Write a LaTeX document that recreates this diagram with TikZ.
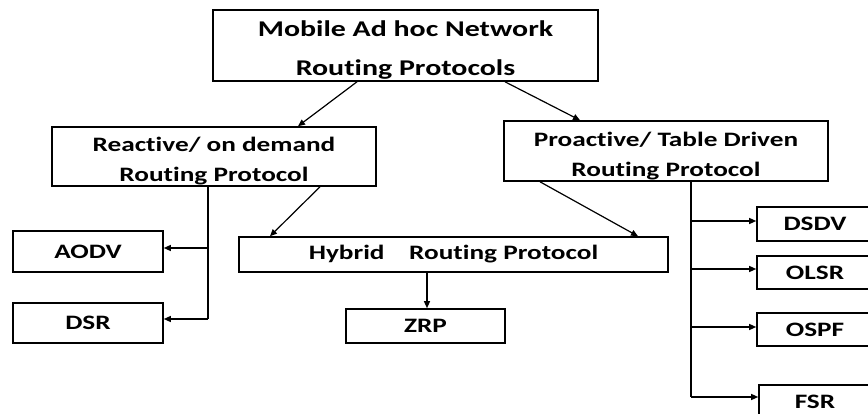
\documentclass[tikz,border=0pt]{standalone}
\usepackage{fontspec}
\setmainfont{Carlito}[Ligatures=NoCommon,FakeStretch=1.33]
\usetikzlibrary{arrows.meta}
\begin{document}
\begin{tikzpicture}[x=1pt,y=-1pt,
  box/.style={draw,line width=1.6pt,inner sep=0pt,align=center,
    font=\bfseries\fontsize{20.5}{30}\selectfont},
  twoline/.style={label={[align=center,inner sep=0pt,yshift=-5pt,
    font=\bfseries\fontsize{20.5}{30}\selectfont]center:#1}},
  arr/.style={line width=1.2pt,-{Triangle[length=7pt,width=6pt]}},
  ln/.style={line width=1.2pt}]
\useasboundingbox (0,0) rectangle (868,414);
\clip (0,0) rectangle (868,414);
\node[box,minimum width=385pt,minimum height=71pt,
  label={[align=center,inner sep=0pt,yshift=-5pt,font=\bfseries\fontsize{22.5}{39}\selectfont]center:Mobile Ad hoc Network\\Routing Protocols}] (top) at (405.5,45.5) {};
\node[box,minimum width=324pt,minimum height=59pt,twoline={Reactive/ on demand\\Routing Protocol}] (reac) at (214,156.5) {};
\node[box,minimum width=324pt,minimum height=60pt,twoline={Proactive/ Table Driven\\Routing Protocol}] (proa) at (666,151) {};
\node[box,minimum width=429pt,minimum height=35pt] (hyb) at (453.5,254.5) {Hybrid\hspace{1.2em}Routing Protocol};
\node[box,minimum width=159pt,minimum height=34pt] (zrp) at (425.5,326) {ZRP};
\node[box,minimum width=150pt,minimum height=41pt] (aodv) at (88,251.5) {AODV};
\node[box,minimum width=150pt,minimum height=40pt] (dsr) at (88,323) {DSR};
\node[box,minimum width=116pt,minimum height=34pt] (dsdv) at (815,224) {DSDV};
\node[box,minimum width=116pt,minimum height=33pt] (olsr) at (815,272.5) {OLSR};
\node[box,minimum width=116pt,minimum height=33pt] (ospf) at (815,329.5) {OSPF};
\node[box,minimum width=112pt,minimum height=34pt] (fsr) at (815,402) {FSR};
% top level
\draw[arr] ([xshift=-48.5pt]top.south) -- ([xshift=84pt]reac.north);
\draw[arr] ([xshift=99.5pt]top.south) -- ([xshift=-86pt]proa.north);
% to hybrid
\draw[arr] ([xshift=106pt]reac.south) -- ([xshift=-183.5pt]hyb.north);
\draw[arr] ([xshift=-126pt]proa.south) -- ([xshift=184.5pt]hyb.north);
\coordinate (hz) at ([xshift=-26.5pt]hyb.south);
\draw[arr] (hz) -- (hz |- zrp.north);
% reactive tree
\coordinate (rb) at ([xshift=-6pt]reac.south);
\coordinate (ra) at ([yshift=3.5pt]aodv.east);
\coordinate (rd) at ([yshift=4pt]dsr.east);
\draw[ln] (rb) -- (rb |- rd);
\draw[arr] (rb |- ra) -- (ra);
\draw[arr] (rb |- rd) -- (rd);
% proactive tree
\coordinate (pb) at ([xshift=25pt]proa.south);
\coordinate (p1) at ([yshift=3pt]dsdv.west);
\coordinate (p2) at ([yshift=3.5pt]olsr.west);
\coordinate (p3) at ([yshift=2.5pt]ospf.west);
\coordinate (p4) at ([yshift=5pt]fsr.west);
\draw[line width=2.2pt] (pb) -- (pb |- p4);
\draw[arr] (pb |- p1) -- (p1);
\draw[arr] (pb |- p2) -- (p2);
\draw[arr] (pb |- p3) -- (p3);
\draw[arr] (pb |- p4) -- (p4);
\end{tikzpicture}
\end{document}
